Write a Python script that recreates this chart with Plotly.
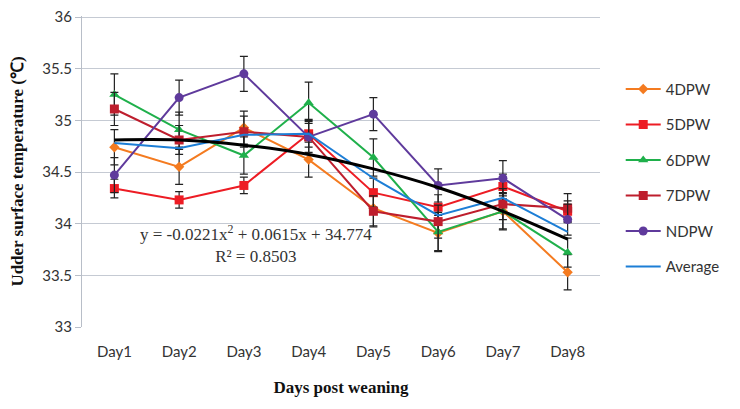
import plotly.graph_objects as go

days = ["Day1", "Day2", "Day3", "Day4", "Day5", "Day6", "Day7", "Day8"]

dpw4 = [34.74, 34.55, 34.93, 34.62, 34.15, 33.91, 34.12, 33.53]
dpw5 = [34.34, 34.23, 34.37, 34.87, 34.30, 34.16, 34.36, 34.12]
dpw6 = [35.25, 34.91, 34.66, 35.17, 34.64, 33.92, 34.12, 33.72]
dpw7 = [35.11, 34.81, 34.89, 34.84, 34.12, 34.02, 34.19, 34.15]
ndpw = [34.47, 35.22, 35.45, 34.84, 35.06, 34.37, 34.44, 34.04]
average = [34.78, 34.73, 34.86, 34.87, 34.44, 34.08, 34.25, 33.92]
trend = [34.81, 34.81, 34.76, 34.67, 34.53, 34.35, 34.12, 33.85]

err4 = [0.17, 0.17, 0.16, 0.17, 0.17, 0.17, 0.17, 0.17]
err5 = [0.09, 0.08, 0.08, 0.13, 0.14, 0.12, 0.12, 0.10]
err6 = [0.20, 0.17, 0.18, 0.20, 0.18, 0.19, 0.18, 0.14]
err7 = [0.16, 0.14, 0.15, 0.15, 0.15, 0.16, 0.15, 0.14]
errn = [0.17, 0.17, 0.17, 0.17, 0.16, 0.16, 0.17, 0.15]

y_ticks = [33, 33.5, 34, 34.5, 35, 35.5, 36]
y_labels = ["33", "33.5", "34", "34.5", "35", "35.5", "36"]

series = [
    ("4DPW", dpw4, err4, "#F47B20", "diamond", 8),
    ("5DPW", dpw5, err5, "#ED1C24", "square", 9),
    ("6DPW", dpw6, err6, "#1FB04B", "triangle-up", 9),
    ("7DPW", dpw7, err7, "#BE1E2D", "square", 9),
    ("NDPW", ndpw, errn, "#5F3A9C", "circle", 9),
]

fig = go.Figure()

for name, vals, err, color, sym, size in series:
    fig.add_trace(go.Scatter(
        x=days, y=vals, mode="lines+markers", name=name, legendgroup=name,
        line=dict(color=color, width=2),
        marker=dict(symbol=sym, size=size, color=color),
        error_y=dict(type="data", array=err, visible=True,
                     color="#222222", thickness=1.2, width=4),
    ))

fig.add_trace(go.Scatter(
    x=days, y=average, mode="lines", name="Average", legendgroup="avg",
    line=dict(color="#1C7ED6", width=2),
))

# polynomial trend line (Excel style)
fig.add_trace(go.Scatter(
    x=days, y=trend, mode="lines", showlegend=False,
    line=dict(color="#000000", width=3, shape="spline"),
))

fig.add_annotation(
    x=0.335, y=33.8, xref="paper", yref="y", xanchor="center", yanchor="middle",
    text="y = -0.0221x<sup>2</sup> + 0.0615x + 34.774<br>R² = 0.8503",
    showarrow=False, align="center",
    font=dict(family="Liberation Serif", size=17, color="#333333"),
)

# page body has an 8px margin, so the figure is sized to fit inside it
fig.update_layout(
    width=732, height=401,
    margin=dict(l=74, r=140, t=8, b=82),
    paper_bgcolor="white", plot_bgcolor="white",
    font=dict(family="Lato", size=15, color="#333333"),
    legend=dict(x=1.04, y=0.48, xanchor="left", yanchor="middle",
                font=dict(family="Lato", size=15, color="#333333"),
                tracegroupgap=13, itemwidth=35, traceorder="grouped"),
    xaxis=dict(
        type="category", range=[-0.5, 7.5], automargin=False,
        showgrid=False, showline=False, ticks="", ticklabelstandoff=14,
        tickfont=dict(family="Lato", size=15, color="#333333"),
        title=dict(text="<b>Days post weaning</b>", standoff=22,
                   font=dict(family="Liberation Serif", size=17, color="#111111")),
    ),
    yaxis=dict(
        # tiny headroom so the 36 gridline is not dropped at the plot edge
        range=[33, 36.01], tickvals=y_ticks, ticktext=y_labels, automargin=False,
        ticklabeloverflow="allow",
        showgrid=True, gridcolor="#C5CAD3", gridwidth=1.2,
        showline=True, linecolor="#B8BEC8", linewidth=1,
        ticks="outside", ticklen=6, tickcolor="#B8BEC8",
        zeroline=False,
        tickfont=dict(family="Lato", size=15, color="#333333"),
        title=dict(text="<b>Udder surface temperature (℃)</b>", standoff=17,
                   font=dict(family="Liberation Serif", size=17, color="#111111")),
    ),
)

fig.write_html("out.html")
